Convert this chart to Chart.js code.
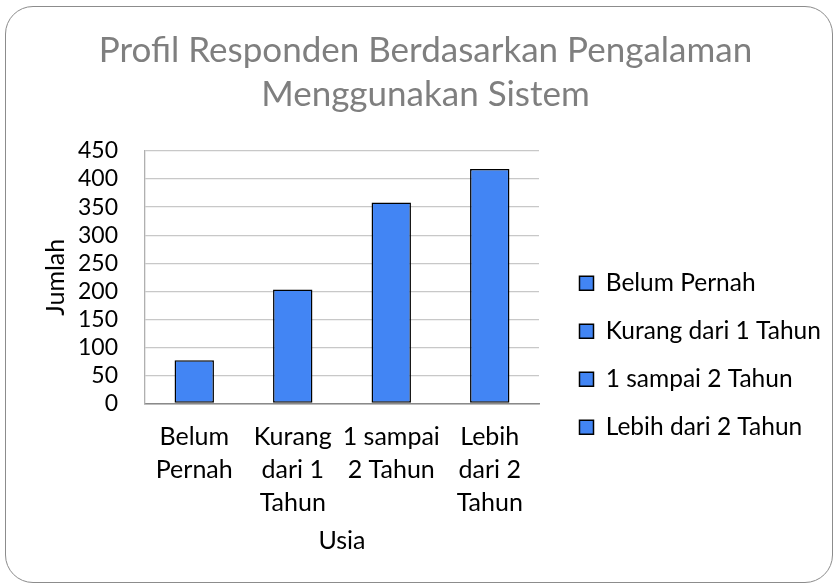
<!DOCTYPE html>
<html>
<head>
<meta charset="utf-8">
<script src="https://cdn.jsdelivr.net/npm/chart.js@4.4.1/dist/chart.umd.min.js"></script>
<style>
  body { margin: 0; background: #fff; }
  .wrap { position: relative; width: 837px; height: 585px; overflow: hidden; }
  .frame {
    position: absolute; left: 5px; top: 6px; width: 826px; height: 575px;
    border: 1.5px solid #8c8c8c; border-radius: 28px;
  }
  canvas { position: absolute; left: 0; top: 0; }
</style>
</head>
<body>
<div class="wrap">
  <div class="frame"></div>
  <canvas id="chart" width="837" height="585"></canvas>
</div>
<script>
const judul = ['Profil Responden Berdasarkan Pengalaman', 'Menggunakan Sistem'];
const kategori = [['Belum', 'Pernah'], ['Kurang', 'dari 1', 'Tahun'], ['1 sampai', '2 Tahun'], ['Lebih', 'dari 2', 'Tahun']];
const namaLegend = ['Belum Pernah', 'Kurang dari 1 Tahun', '1 sampai 2 Tahun', 'Lebih dari 2 Tahun'];
const jumlah = [77, 203, 358, 418];
const yMax = 450;
const yStep = 50;

const biru = '#4285f4';

// legend: fixed width so the plot ends where the reference does, then moved into place
const legendPlace = {
  id: 'legendPlace',
  beforeLayout(chart) {
    const lg = chart.legend;
    if (lg && !lg._patched) {
      const fit = lg.fit;
      lg.fit = function () { fit.call(this); this.width = 298; };
      lg._patched = true;
    }
  },
  afterLayout(chart) {
    const lg = chart.legend;
    const w = lg.width, h = lg.height;
    lg.left = 556; lg.right = lg.left + w;
    lg.top = 247.5; lg.bottom = lg.top + h;
    const t = chart.titleBlock;
    t.left -= 13; t.right -= 13;
  }
};

const ctx = document.getElementById('chart').getContext('2d');
const chart = new Chart(ctx, {
  type: 'bar',
  data: {
    labels: kategori,
    datasets: [{
      label: 'Jumlah',
      data: jumlah,
      backgroundColor: biru,
      borderColor: '#000',
      borderWidth: 1.5,
      borderSkipped: false,
      barPercentage: 0.4,
      categoryPercentage: 1
    }]
  },
  options: {
    responsive: false,
    animation: false,
    layout: { padding: { top: 29, right: 0, bottom: 29.5, left: 40 } },
    plugins: {
      title: {
        display: true,
        text: judul,
        color: '#7f7f7f',
        font: { family: 'Lato', size: 35, weight: 400, lineHeight: 1.257 },
        padding: { top: 0, bottom: 34 }
      },
      legend: {
        position: 'right',
        align: 'start',
        labels: {
          color: '#1a1a1a',
          font: { family: 'Lato', size: 24.5 },
          boxWidth: 14,
          boxHeight: 14,
          padding: 23.5,
          generateLabels: () => namaLegend.map((t, i) => ({
            text: t,
            fillStyle: biru,
            strokeStyle: '#000',
            lineWidth: 1.5,
            index: i,
            datasetIndex: 0
          }))
        }
      },
      tooltip: { enabled: false }
    },
    scales: {
      x: {
        grid: { display: false, drawTicks: false },
        border: { color: '#8a8a8a', width: 1.5 },
        ticks: {
          color: '#000',
          font: { family: 'Lato', size: 25, lineHeight: 1.32 },
          padding: 17,
          maxRotation: 0,
          autoSkip: false
        },
        title: {
          display: true,
          text: 'Usia',
          color: '#000',
          font: { family: 'Lato', size: 25, lineHeight: 1.2 },
          padding: { top: -11, bottom: 0 }
        }
      },
      y: {
        min: 0,
        max: yMax,
        afterFit(scale) { scale.width = 105; },
        grid: { color: '#c8c8c8', lineWidth: 1.3, drawTicks: false },
        border: { color: '#b0b0b0', width: 1.3 },
        ticks: {
          stepSize: yStep,
          autoSkip: false,
          color: '#000',
          font: { family: 'Lato', size: 23 },
          padding: 27
        },
        title: {
          display: true,
          text: 'Jumlah',
          color: '#000',
          font: { family: 'Lato', size: 25, lineHeight: 1.2 },
          padding: { top: 1, bottom: 0 }
        }
      }
    }
  },
  plugins: [legendPlace]
});
</script>
</body>
</html>
